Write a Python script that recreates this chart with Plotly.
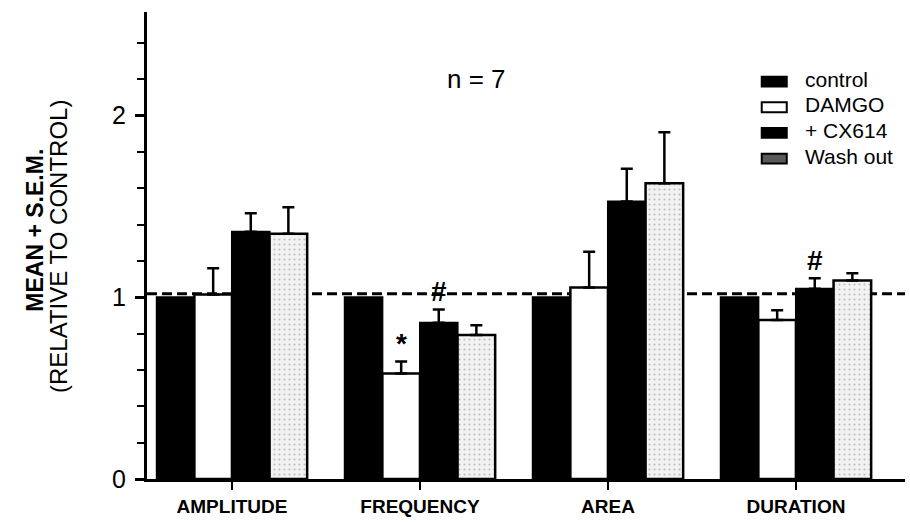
import plotly.graph_objects as go

categories = ["AMPLITUDE", "FREQUENCY", "AREA", "DURATION"]
series_names = ["control", "DAMGO", "+ CX614", "Wash out"]
control = [1.00, 1.00, 1.00, 1.00]
damgo = [1.016, 0.58, 1.054, 0.875]
cx614 = [1.36, 0.86, 1.527, 1.047]
washout = [1.35, 0.793, 1.627, 1.092]
control_sem = [0.0, 0.0, 0.0, 0.0]
damgo_sem = [0.144, 0.067, 0.196, 0.054]
cx614_sem = [0.103, 0.073, 0.180, 0.058]
washout_sem = [0.145, 0.053, 0.281, 0.040]
dash_level = 1.02
y_tick_vals = [0, 1, 2]
y_tick_text = ["0", "1", "2"]
# significance marks: (category index, series index, symbol)
marks = [(1, 1, "*"), (1, 2, "#"), (3, 2, "#")]
n_label = "n = 7"

FONT = "Liberation Sans, Arial, sans-serif"
values = [control, damgo, cx614, washout]
sems = [control_sem, damgo_sem, cx614_sem, washout_sem]
styles = [
    dict(color="black", line=dict(color="black", width=2)),
    dict(color="white", line=dict(color="black", width=2.5)),
    dict(color="black", line=dict(color="black", width=2)),
    dict(color="#ececec", line=dict(color="black", width=2.5),
         pattern=dict(shape=".", fgcolor="#8a8a8a", bgcolor="#f2f2f2", size=5, solidity=0.15)),
]
legend_swatch = [
    dict(fill="black", line="black"),
    dict(fill="white", line="black"),
    dict(fill="black", line="black"),
    dict(fill="#5a5a5a", line="black"),
]

fig = go.Figure()
for name, v, s, st in zip(series_names, values, sems, styles):
    has_err = any(e > 0 for e in s)
    fig.add_trace(go.Bar(
        x=categories, y=v, name=name, marker=st, showlegend=False,
        error_y=dict(type="data", array=s, arrayminus=[0] * len(s), symmetric=False,
                     visible=has_err, color="black", thickness=2.5, width=6),
    ))

fig.add_shape(type="line", xref="paper", yref="y", x0=0, x1=1, y0=dash_level, y1=dash_level,
              line=dict(color="black", width=3, dash="10px,5px"), layer="below")

nb = len(series_names)
bw = 0.8 / nb
for ci, si, sym in marks:
    xpos = ci + (si - (nb - 1) / 2) * bw
    ytop = values[si][ci] + sems[si][ci]
    fig.add_annotation(x=xpos, y=ytop, xref="x", yref="y", text=f"<b>{sym}</b>",
                       showarrow=False, xanchor="center", yanchor="bottom", yshift=0,
                       font=dict(family=FONT, size=28, color="black"))

# legend drawn as layout items (compact row spacing like the reference)
leg_rows_y = [0.856, 0.801, 0.746, 0.691]
sw_h = 0.021
for name, sw, yy in zip(series_names, legend_swatch, leg_rows_y):
    fig.add_shape(type="rect", xref="paper", yref="paper", x0=0.811, x1=0.844,
                  y0=yy - 0.005 - sw_h / 2, y1=yy - 0.005 + sw_h / 2,
                  fillcolor=sw["fill"], line=dict(color=sw["line"], width=2))
    fig.add_annotation(x=0.866, y=yy, xref="paper", yref="paper", text=name, showarrow=False,
                       xanchor="left", yanchor="middle",
                       font=dict(family=FONT, size=21, color="black"))

fig.add_annotation(x=0.435, y=0.856, xref="paper", yref="paper", text=n_label, showarrow=False,
                   xanchor="center", yanchor="middle",
                   font=dict(family=FONT, size=26, color="black"))
fig.add_annotation(x=-0.147, y=0.533, xref="paper", yref="paper", text="<b>MEAN + S.E.M.</b>",
                   textangle=-90, showarrow=False, xanchor="center", yanchor="middle",
                   font=dict(family=FONT, size=23, color="black"))
fig.add_annotation(x=-0.116, y=0.497, xref="paper", yref="paper", text="(RELATIVE TO CONTROL)",
                   textangle=-90, showarrow=False, xanchor="center", yanchor="middle",
                   font=dict(family=FONT, size=24, color="black"))

fig.update_layout(
    width=910, height=522,
    margin=dict(l=147, r=5, t=12, b=37),
    paper_bgcolor="white", plot_bgcolor="white",
    barmode="group", bargap=0.2, bargroupgap=0,
    showlegend=False,
    font=dict(family=FONT, color="black"),
)
fig.update_xaxes(
    range=[-0.452, 3.58], showline=True, linecolor="black", linewidth=3,
    ticks="outside", ticklen=8, tickwidth=2, tickcolor="black",
    tickfont=dict(family=FONT, size=19, color="black"),
    tickprefix="<b>", ticksuffix="</b>", showgrid=False, zeroline=False,
)
fig.update_yaxes(
    range=[0, 2.57], showline=True, linecolor="black", linewidth=3,
    tickvals=y_tick_vals, ticktext=y_tick_text,
    ticks="outside", ticklen=9, tickwidth=2.5, tickcolor="black",
    minor=dict(dtick=0.2, tick0=0, ticks="outside", ticklen=7, tickwidth=2, tickcolor="black", showgrid=False),
    tickfont=dict(family=FONT, size=25, color="black"),
    showgrid=False, zeroline=False, ticklabelstandoff=4,
)

fig.write_html("out.html")
